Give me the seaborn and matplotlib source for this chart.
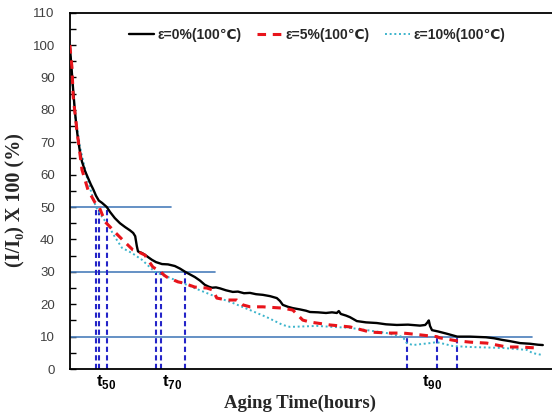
import numpy as np
import pandas as pd
import matplotlib
matplotlib.use("Agg")
import matplotlib.pyplot as plt
import seaborn as sns

# aging curves, hours vs (I/I0) x 100
hours_0 = [0, 2, 5, 8, 12, 16, 20, 25, 30, 38, 45, 52, 58, 65, 72, 80, 92, 100, 112, 125,
           138, 150, 158, 163, 167, 170, 180, 188, 198, 205, 215, 230, 245, 262, 275, 288,
           300, 312, 325, 337, 347, 355, 365, 375, 390, 407, 420, 435, 450, 465, 482, 500,
           517, 525, 532, 545, 557, 575, 590, 600, 620, 640, 655, 667, 672, 677, 690, 700,
           710, 717, 740, 767, 790, 817, 845, 875, 888, 893, 897, 900, 905, 920, 942, 968,
           1000, 1040, 1060, 1080, 1100, 1125, 1150, 1170, 1182]
value_0 = [99, 96, 91, 86, 80, 75, 71, 67, 64, 61, 59, 57, 55.5, 53.5, 52, 51.3, 50, 48.5, 46.6, 45,
           43.8, 42.8, 42, 41, 38, 36.3, 35.8, 35.2, 34.3, 33.7, 33, 32.4, 32.3, 31.8, 31, 30,
           29.2, 28.4, 27.3, 26, 25.4, 25.1, 25.2, 24.9, 24.3, 23.8, 23.9, 23.4, 23.5, 23.1, 22.9, 22.5,
           21.9, 21, 19.8, 19.2, 18.8, 18.4, 18.0, 17.6, 17.5, 17.3, 17.5, 17.3, 17.9, 17.0, 16.5, 16.0,
           15.3, 14.8, 14.4, 14.2, 13.8, 13.6, 13.7, 13.4, 13.6, 14.3, 15.0, 13.3, 12.0, 11.6, 10.9, 10.0,
           10.0, 9.8, 9.5, 9.0, 8.6, 8.0, 7.8, 7.5, 7.4]

hours_5 = [0, 1, 5, 8, 17, 30, 45, 62, 73, 88, 100, 112, 137, 157, 170, 187, 207, 227, 235,
           242, 270, 282, 312, 342, 357, 367, 392, 417, 432, 450, 482, 532, 557, 582, 600, 650,
           700, 732, 750, 800, 832, 857, 900, 917, 925, 967, 1000, 1042, 1092, 1125, 1167]
value_5 = [100, 98, 93, 84, 74, 61.5, 55.3, 51.5, 50, 45.4, 43.9, 42.3, 39.2, 36.8, 36.2, 35.2, 31.5, 30, 29,
           28.4, 26.9, 26.6, 25.3, 25, 24.4, 21.9, 21.3, 21.3, 19.8, 19.2, 19.2, 18.8, 18.2, 15.1, 14.5, 13.6,
           13, 12, 11.4, 11.1, 11.1, 10.8, 10.2, 10, 9.6, 8.7, 8.3, 8.0, 6.8, 6.8, 6.5]

hours_10 = [0, 2, 5, 12, 25, 42, 57, 65, 80, 95, 112, 130, 155, 180, 212, 245, 282, 325,
            367, 407, 450, 492, 532, 550, 617, 657, 700, 742, 792, 832, 842, 857, 900, 917,
            957, 1000, 1082, 1142, 1157, 1182]
value_10 = [98, 95, 90, 79, 68.6, 59.3, 53, 50, 47, 44.5, 40.8, 37.4, 35.8, 33.7, 30, 28.4, 26.5, 24.3,
            22.2, 20.4, 18.2, 16, 13.6, 13, 13.3, 13, 12.7, 12, 11.1, 9.9, 8, 7.4, 8, 8.3,
            7.1, 6.8, 6.5, 5.9, 4.9, 4.3]

series_labels = ["ε=0%(100℃)", "ε=5%(100℃)", "ε=10%(100℃)"]

# threshold levels and where each curve crosses them
levels = [50, 30, 10]
level_ends = [252, 362, 1155]
cross_hours = [[65, 73, 92], [215, 227, 287], [843, 917, 968]]
t_labels = [r"$\mathbf{t}_{\mathbf{50}}$", r"$\mathbf{t}_{\mathbf{70}}$", r"$\mathbf{t}_{\mathbf{90}}$"]
t_label_pos = [90, 255, 905]

sns.set_style("white")
plt.rcParams["font.family"] = ["Liberation Sans", "DejaVu Sans"]
plt.rcParams["mathtext.fontset"] = "custom"
plt.rcParams["mathtext.rm"] = "Liberation Sans"
plt.rcParams["mathtext.bf"] = "Liberation Sans:bold"

fig = plt.figure(figsize=(5.52, 4.15), dpi=100)
ax = fig.add_axes([0.1268, 0.1108, 0.8732, 0.8586])

df0 = pd.DataFrame({"hours": hours_0, "value": value_0})
df5 = pd.DataFrame({"hours": hours_5, "value": value_5})
df10 = pd.DataFrame({"hours": hours_10, "value": value_10})

# horizontal level lines
for lvl, end in zip(levels, level_ends):
    ax.plot([0, end], [lvl, lvl], color="#4a7ebb", lw=1.2, zorder=1)

# vertical dashed drop lines
for lvl, xs in zip(levels, cross_hours):
    for xv in xs:
        ax.plot([xv, xv], [0, lvl], color="#2424c8", lw=1.5,
                linestyle=(0, (2.5, 1.6)), zorder=1)

sns.lineplot(data=df0, x="hours", y="value", ax=ax, color="black", lw=1.7,
             label=series_labels[0], zorder=3)
sns.lineplot(data=df5, x="hours", y="value", ax=ax, color="#e8141b", lw=2.2,
             linestyle=(0, (2.8, 2.2)), label=series_labels[1], zorder=3)
sns.lineplot(data=df10, x="hours", y="value", ax=ax, color="#3cb4cc", lw=1.4,
             linestyle=(0, (1, 1.4)), label=series_labels[2], zorder=2)

ax.set_xlim(0, 1205)
ax.set_ylim(0, 110)
ax.set_xticks([])
ax.set_yticks(np.arange(0, 111, 10))
ax.set_yticks(np.arange(5, 110, 10), minor=True)
ax.tick_params(axis="y", which="both", direction="in", length=4, width=1,
               left=True, pad=11, labelsize=9.5, labelcolor="#404040", color="black")

for side in ["left", "top", "bottom"]:
    ax.spines[side].set_color("black")
    ax.spines[side].set_linewidth(1.3)
ax.spines["right"].set_visible(False)

for lab, xp in zip(t_labels, t_label_pos):
    ax.text(xp, -0.036, lab, transform=ax.get_xaxis_transform(), ha="center",
            va="center", fontsize=12, color="black")

ax.set_xlabel("Aging Time(hours)", family=["Liberation Serif", "DejaVu Serif"],
              fontweight="bold", fontsize=13.5)
ax.xaxis.set_label_coords(0.477, -0.071)
ax.set_ylabel("(I/I\u2080) X 100 (%)", family=["Liberation Serif", "DejaVu Serif"],
              fontweight="bold", fontsize=14.5)
ax.yaxis.set_label_coords(-0.093, 0.474)

leg = ax.legend(loc="center", bbox_to_anchor=(0.513, 0.937), ncol=3, frameon=False,
                handlelength=1.8, handletextpad=0.25, columnspacing=1.1,
                prop={"weight": "bold", "size": 10})

fig.savefig("out.png", dpi=100)
